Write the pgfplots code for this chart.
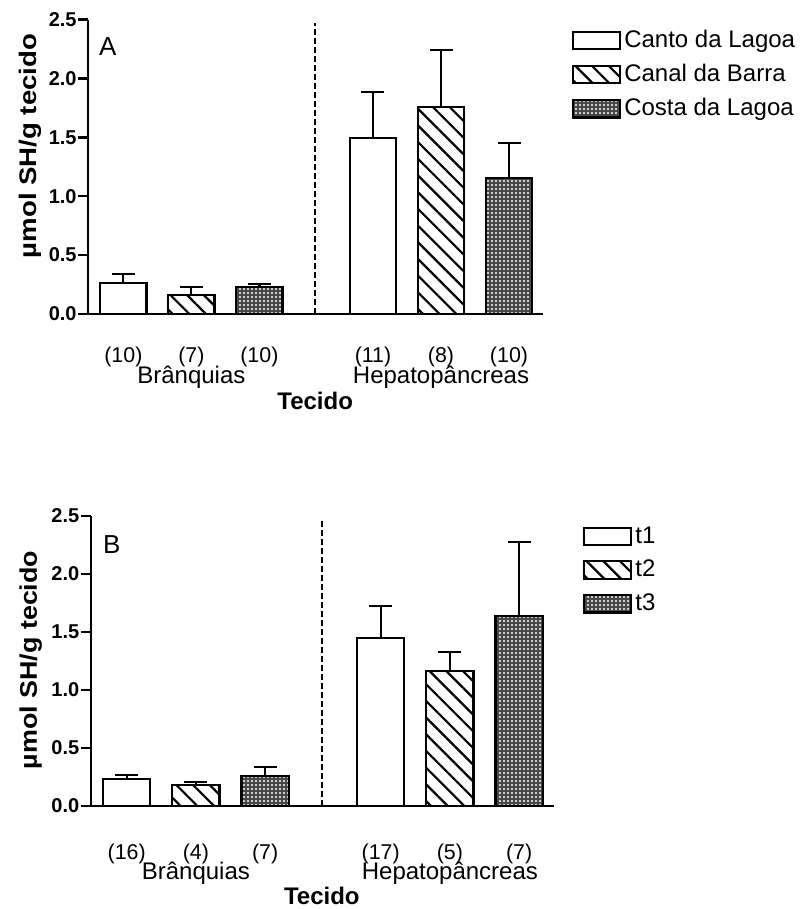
\documentclass[border=0pt]{standalone}
\usepackage{fontspec}
\setmainfont{Liberation Sans}
\usepackage{pgfplots}
\pgfplotsset{compat=1.18}
\usepackage{pgfplotstable}
\usetikzlibrary{patterns.meta}

% Panel A
\pgfplotstableread{
x y e
0 0.263 0.077
3.67 1.497 0.385
}\Aone
\pgfplotstableread{
x y e
1 0.164 0.063
4.67 1.755 0.486
}\Atwo
\pgfplotstableread{
x y e
2 0.232 0.020
5.67 1.157 0.297
}\Athree
% Panel B
\pgfplotstableread{
x y e
0 0.230 0.037
3.67 1.451 0.276
}\Bone
\pgfplotstableread{
x y e
1 0.181 0.023
4.67 1.164 0.161
}\Btwo
\pgfplotstableread{
x y e
2 0.261 0.078
5.67 1.641 0.637
}\Bthree

\newcommand{\xf}{\fontsize{10.7}{12}\selectfont}
\tikzset{grp/.style={font=\fontsize{12}{14}\selectfont, inner sep=0pt}}

\pgfplotsset{
  barbox/.style={legend image code/.code={\draw[##1] (0pt,-4.4pt) rectangle (23.5pt,4.4pt);}},
  sone/.style={draw=black, line width=1.1pt, fill=white, barbox},
  stwo/.style={draw=black, line width=1.1pt, preaction={fill=white},
     pattern={Lines[angle=-45,distance=5.9pt,line width=1.1pt]}, barbox},
  sthree/.style={draw=black, line width=1.1pt, preaction={fill=black!72},
     pattern={Dots[distance=2pt,radius=0.55pt]}, pattern color=white, barbox},
  panel/.style={
    scale only axis,
    xmin=-0.52, xmax=6.17, ymin=0, ymax=2.5,
    axis x line=bottom, axis y line=left,
    axis line style={-, line width=1.2pt},
    ytick={0,0.5,1,1.5,2,2.5},
    y tick style={line width=1.2pt, black},
    major tick length=5pt, tick align=outside,
    yticklabel={\fontsize{10}{12}\selectfont\bfseries\pgfmathprintnumber[fixed,fixed zerofill,precision=1,assume math mode=true]{\tick}},
    yticklabel style={inner xsep=0.5pt},
    xtick={0,1,2,3.67,4.67,5.67},
    x tick style={draw=none},
    ybar, bar shift=0pt, bar width=0.68,
    error bars/y dir=plus, error bars/y explicit,
    error bars/error bar style={line width=1.1pt, black, solid},
    error bars/error mark options={rotate=90, mark size=5.75pt, line width=1.1pt, black, solid},
    clip=false,
    legend style={draw=none, fill=none, inner sep=0pt, anchor=north west,
      font=\fontsize{12}{14}\selectfont, row sep=6.9pt,
      nodes={inner sep=0pt, inner xsep=1.5pt},
      cells={anchor=west}},
  },
}

\begin{document}
\begin{tikzpicture}
\path[use as bounding box] (0,0) rectangle (401pt,-454.5pt);

% ---------- Panel A ----------
\begin{axis}[panel,
  at={(44pt,-157pt)}, anchor=south west,
  width=227.5pt, height=147.25pt,
  xticklabels={{\xf(10)},{\xf(7)},{\xf(10)},{\xf(11)},{\xf(8)},{\xf(10)}},
  xticklabel style={anchor=center, inner sep=0pt, yshift=-16.6pt},
  legend style={at={(1.063,0.965)}},
]
\addplot[sone] table[x=x,y=y,y error=e] {\Aone};
\addplot[stwo] table[x=x,y=y,y error=e] {\Atwo};
\addplot[sthree] table[x=x,y=y,y error=e] {\Athree};
\legend{Canto da Lagoa, Canal da Barra, Costa da Lagoa}
\draw[line width=1pt, dash pattern=on 3pt off 1.5pt] (axis cs:2.82,0) -- (axis cs:2.82,2.47);
\node[font=\fontsize{13}{15}\selectfont] at (axis cs:-0.228,2.27) {A};
\node[grp, yshift=-31.6pt] at (axis cs:1,0) {Brânquias};
\node[grp, yshift=-31.6pt] at (axis cs:4.67,0) {Hepatopâncreas};
\node[grp, font=\fontsize{12}{14}\selectfont\bfseries, yshift=-43.6pt] at (axis cs:2.82,0) {Tecido};
\end{axis}
\node[rotate=90, font=\fontsize{12}{14}\selectfont\bfseries] at (15pt,-73pt) {\scalebox{1.15}[1]{µmol SH/g tecido}};

% ---------- Panel B ----------
\begin{axis}[panel,
  at={(45.35pt,-403pt)}, anchor=south west,
  width=231.5pt, height=145pt,
  xticklabels={{\xf(16)},{\xf(4)},{\xf(7)},{\xf(17)},{\xf(5)},{\xf(7)}},
  xticklabel style={anchor=center, inner sep=0pt, yshift=-18.8pt},
  legend style={at={(1.063,0.965)}},
]
\addplot[sone] table[x=x,y=y,y error=e] {\Bone};
\addplot[stwo] table[x=x,y=y,y error=e] {\Btwo};
\addplot[sthree] table[x=x,y=y,y error=e] {\Bthree};
\legend{t1, t2, t3}
\draw[line width=1pt, dash pattern=on 3pt off 1.5pt] (axis cs:2.82,0) -- (axis cs:2.82,2.46);
\node[font=\fontsize{13}{15}\selectfont] at (axis cs:-0.214,2.25) {B};
\node[grp, yshift=-33.8pt] at (axis cs:1,0) {Brânquias};
\node[grp, yshift=-33.8pt] at (axis cs:4.67,0) {Hepatopâncreas};
\node[grp, font=\fontsize{12}{14}\selectfont\bfseries, yshift=-45pt] at (axis cs:2.82,0) {Tecido};
\end{axis}
\node[rotate=90, font=\fontsize{12}{14}\selectfont\bfseries] at (15.35pt,-330pt) {\scalebox{1.12}[1]{µmol SH/g tecido}};
\end{tikzpicture}
\end{document}
